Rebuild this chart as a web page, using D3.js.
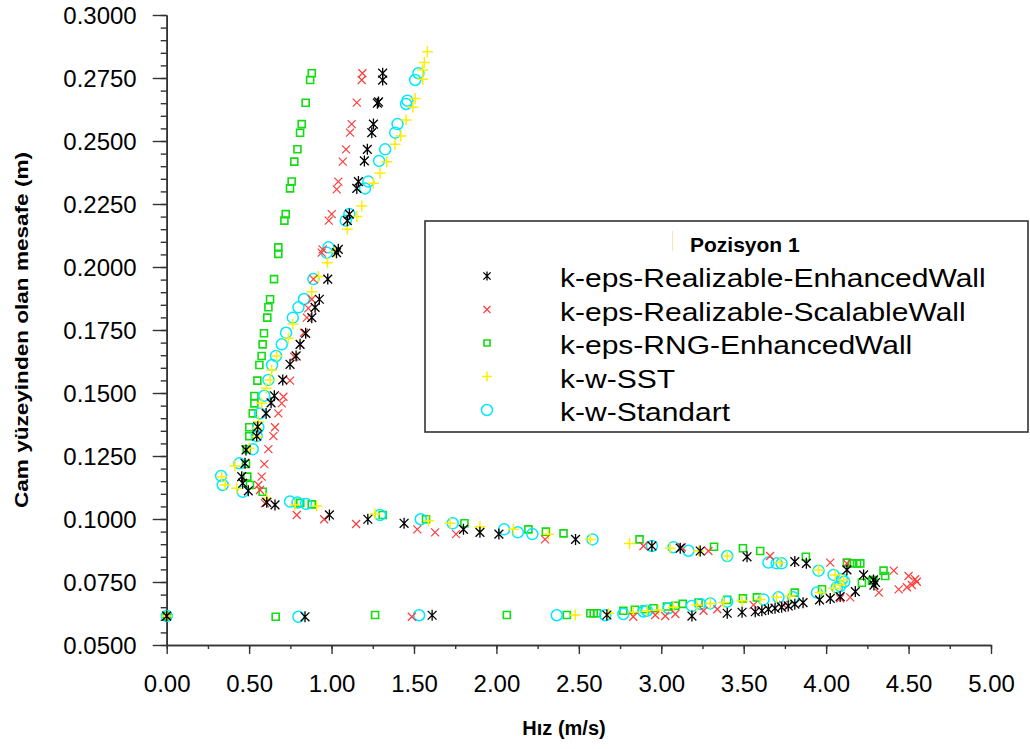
<!DOCTYPE html>
<html>
<head>
<meta charset="utf-8">
<script src="https://cdn.jsdelivr.net/npm/d3@7"></script>
<style>
  html, body { margin: 0; padding: 0; background: #fff; }
  svg { display: block; }
  text { font-family: "Liberation Sans", Arial, sans-serif; }
</style>
</head>
<body>
<svg id="chart" width="1030" height="749"></svg>
<script>
// Velocity profiles (m/s) against distance from the glass surface (m), position 1
const xMajorTicks = [0, 0.5, 1, 1.5, 2, 2.5, 3, 3.5, 4, 4.5, 5];
const yMajorTicks = [0.05, 0.075, 0.1, 0.125, 0.15, 0.175, 0.2, 0.225, 0.25, 0.275, 0.3];
const seriesNames = [
  "k-eps-Realizable-EnhancedWall",
  "k-eps-Realizable-ScalableWall",
  "k-eps-RNG-EnhancedWall",
  "k-w-SST",
  "k-w-Standart"
];
const legendTitle = "Pozisyon 1";
const xTitle = "Hız (m/s)";
const yTitle = "Cam yüzeyinden olan mesafe (m)";

// [velocity, distance]
const realizableEnhanced = [
  [0,0.0615],[0.839,0.0612],[1.61,0.0618],[2.67,0.0619],[3.186,0.0615],[3.40,0.0626],[3.49,0.0630],
  [3.57,0.0632],[3.61,0.0636],[3.65,0.0642],[3.69,0.0646],[3.73,0.0650],[3.77,0.0655],[3.81,0.0662],
  [3.86,0.0668],[3.96,0.0679],[4.025,0.0685],[4.085,0.0692],[4.177,0.0712],[4.29,0.0738],[4.30,0.0748],
  [4.287,0.0758],[4.227,0.0778],[4.126,0.0798],[3.88,0.0824],[3.81,0.0831],[3.52,0.0850],[3.236,0.0873],
  [3.115,0.0884],[2.943,0.0893],[2.48,0.0919],[2.015,0.0940],[1.90,0.0947],[1.80,0.0959],[1.44,0.0983],
  [1.22,0.0999],[0.987,0.1016],[0.657,0.1056],[0.607,0.1066],[0.495,0.1112],[0.461,0.1142],[0.455,0.1168],
  [0.475,0.1221],[0.481,0.1274],[0.546,0.1329],[0.552,0.1366],[0.603,0.1419],[0.633,0.1461],[0.653,0.1489],
  [0.704,0.1552],[0.748,0.1614],[0.785,0.1647],[0.809,0.1693],[0.843,0.1737],[0.88,0.1799],[0.90,0.1840],
  [0.926,0.1872],[0.977,0.1952],[1.03,0.2057],[1.041,0.2070],[1.096,0.2184],[1.108,0.2210],[1.153,0.2312],
  [1.163,0.2339],[1.199,0.2421],[1.217,0.2467],[1.244,0.2533],[1.254,0.2567],[1.278,0.2650],[1.285,0.2655],
  [1.31,0.2742],[1.31,0.2769]
];
const realizableScalable = [
  [0,0.0615],[1.487,0.0612],[2.83,0.0612],[2.963,0.0619],[3.024,0.0615],[3.085,0.0623],[3.256,0.0636],
  [3.34,0.0642],[3.56,0.0659],[3.74,0.0659],[4.085,0.0685],[4.146,0.0689],[4.32,0.0708],[4.44,0.0721],
  [4.49,0.0729],[4.52,0.0738],[4.55,0.0751],[4.54,0.0761],[4.50,0.0774],[4.41,0.0795],[4.126,0.0824],
  [4.025,0.0827],[3.66,0.0853],[3.286,0.0873],[3.125,0.0888],[2.892,0.0893],[2.295,0.0919],[1.755,0.0940],
  [1.628,0.0947],[1.52,0.0959],[1.149,0.0980],[0.955,0.0999],[0.789,0.1016],[0.596,0.1062],[0.566,0.1115],
  [0.556,0.1135],[0.576,0.1168],[0.592,0.1218],[0.617,0.1277],[0.647,0.1329],[0.657,0.1364],[0.677,0.1419],
  [0.698,0.1459],[0.708,0.1485],[0.748,0.1549],[0.774,0.1644],[0.809,0.1693],[0.833,0.1739],[0.85,0.1799],
  [0.859,0.1836],[0.88,0.1872],[0.89,0.1952],[0.94,0.2057],[0.946,0.2070],[0.983,0.2184],[1.001,0.2210],
  [1.031,0.2308],[1.041,0.2339],[1.068,0.2418],[1.088,0.2467],[1.112,0.2533],[1.122,0.2567],[1.153,0.2652],
  [1.183,0.2742],[1.187,0.2769]
];
const rngEnhanced = [
  [0,0.0615],[0.661,0.0612],[1.264,0.0619],[2.063,0.0619],[2.427,0.0619],[2.57,0.0626],[2.59,0.0626],
  [2.61,0.0626],[2.77,0.0636],[2.84,0.0640],[2.90,0.0642],[2.953,0.0646],[3.034,0.0653],[3.085,0.0656],
  [3.13,0.0663],[3.226,0.0668],[3.40,0.0679],[3.495,0.0685],[3.58,0.0689],[3.81,0.0708],[3.975,0.0721],
  [4.217,0.0747],[4.278,0.0755],[4.287,0.0758],[4.358,0.0774],[4.348,0.0795],[4.207,0.0824],[4.187,0.0824],
  [4.157,0.0824],[4.126,0.0827],[3.877,0.0850],[3.60,0.0873],[3.495,0.0884],[3.32,0.0890],[2.868,0.0919],
  [2.407,0.0943],[2.30,0.0950],[2.194,0.0959],[1.806,0.0983],[1.573,0.0999],[1.31,0.1016],[0.88,0.1058],
  [0.81,0.1064],[0.582,0.1108],[0.505,0.1135],[0.489,0.1168],[0.481,0.1218],[0.485,0.1277],[0.501,0.1329],
  [0.501,0.1364],[0.522,0.1419],[0.532,0.1459],[0.532,0.1488],[0.550,0.1549],[0.562,0.1611],[0.576,0.1647],
  [0.582,0.1693],[0.59,0.1737],[0.610,0.1799],[0.617,0.1840],[0.627,0.1872],[0.651,0.1952],[0.677,0.2052],
  [0.677,0.2078],[0.714,0.2184],[0.722,0.2210],[0.748,0.2312],[0.758,0.2339],[0.774,0.2418],[0.793,0.2467],
  [0.809,0.2533],[0.819,0.2567],[0.843,0.2652],[0.87,0.2742],[0.88,0.2769]
];
const kwSST = [
  [0,0.0615],[2.478,0.0619],[2.68,0.0626],[2.83,0.0630],[2.913,0.0636],[2.983,0.0639],[3.074,0.0650],
  [3.216,0.0659],[3.297,0.0665],[3.377,0.0669],[3.49,0.0676],[3.60,0.0681],[3.70,0.0689],[3.78,0.0694],
  [3.964,0.0708],[4.045,0.0725],[4.085,0.0738],[4.106,0.0758],[4.055,0.0778],[3.954,0.0798],[3.72,0.0827],
  [3.40,0.0853],[3.226,0.0873],[3.054,0.0884],[2.807,0.0903],[2.569,0.0919],[2.315,0.0939],[2.103,0.0959],
  [1.90,0.0969],[1.719,0.0983],[1.588,0.0993],[1.264,0.1020],[0.91,0.1052],[0.778,0.1056],[0.607,0.1082],
  [0.425,0.1122],[0.354,0.1135],[0.334,0.1168],[0.414,0.1210],[0.501,0.1281],[0.546,0.1327],[0.546,0.1360],
  [0.556,0.1386],[0.576,0.1459],[0.603,0.1519],[0.627,0.1552],[0.637,0.1591],[0.667,0.1647],[0.738,0.1717],
  [0.765,0.1774],[0.88,0.1902],[0.92,0.1962],[0.975,0.2017],[1.021,0.2061],[1.096,0.2150],[1.153,0.2200],
  [1.183,0.2242],[1.254,0.2332],[1.294,0.2372],[1.335,0.2418],[1.385,0.2487],[1.42,0.2520],[1.452,0.2583],
  [1.493,0.2634],[1.507,0.2669],[1.553,0.2745],[1.553,0.2782],[1.563,0.2812],[1.581,0.2854]
];
const kwStandart = [
  [0,0.0615],[0.799,0.0612],[1.531,0.0618],[2.366,0.0618],[2.66,0.0618],[2.77,0.0623],[2.892,0.0633],
  [2.913,0.0636],[3.044,0.0646],[3.186,0.0655],[3.236,0.0663],[3.297,0.0665],[3.40,0.0672],[3.62,0.0681],
  [3.711,0.0689],[3.80,0.0689],[3.944,0.0708],[4.065,0.0729],[4.085,0.0734],[4.11,0.0751],[4.096,0.0761],
  [4.045,0.0778],[3.954,0.0795],[3.73,0.0824],[3.70,0.0824],[3.65,0.0827],[3.40,0.0853],[3.165,0.0874],
  [3.074,0.0888],[2.943,0.0893],[2.583,0.0919],[2.218,0.0940],[2.13,0.0947],[2.047,0.0959],[1.735,0.0983],
  [1.541,0.0999],[1.294,0.1016],[0.845,0.1060],[0.793,0.1065],[0.748,0.1069],[0.461,0.1108],[0.34,0.1135],
  [0.33,0.1171],[0.441,0.1221],[0.522,0.1277],[0.546,0.1329],[0.556,0.1364],[0.566,0.1419],[0.592,0.1489],
  [0.617,0.1552],[0.639,0.1611],[0.663,0.1647],[0.698,0.1693],[0.724,0.1739],[0.765,0.1799],[0.799,0.1840],
  [0.833,0.1873],[0.89,0.1952],[0.971,0.2057],[0.981,0.2078],[1.086,0.2184],[1.108,0.2210],[1.203,0.2312],
  [1.223,0.2339],[1.288,0.2421],[1.325,0.2467],[1.386,0.2533],[1.40,0.2567],[1.452,0.2647],[1.46,0.2660],
  [1.507,0.2742],[1.527,0.2769]
];

const seriesData = [realizableEnhanced, realizableScalable, rngEnhanced, kwSST, kwStandart];

// ---- marker styles ----
const styles = [
  { color: "#000000", shape: "asterisk", size: 5.5, width: 1.3 },
  { color: "#ff3b3b", shape: "cross",    size: 4,   width: 1.2 },
  { color: "#11dd11", shape: "square",   size: 3.5, width: 1.6 },
  { color: "#ffee00", shape: "plus",     size: 5.5, width: 1.5 },
  { color: "#00e8ff", shape: "circle",   size: 5.5, width: 1.5 }
];
function markerPath(shape, s) {
  switch (shape) {
    case "asterisk": return `M0,${-s}V${s}M${-s*0.8},${-s*0.8}L${s*0.8},${s*0.8}M${-s*0.8},${s*0.8}L${s*0.8},${-s*0.8}`;
    case "cross":    return `M${-s},${-s}L${s},${s}M${-s},${s}L${s},${-s}`;
    case "square":   return `M${-s},${-s}H${s}V${s}H${-s}Z`;
    case "plus":     return `M${-s},0H${s}M0,${-s}V${s}`;
    case "circle":   return `M${s},0A${s},${s} 0 1,1 ${-s},0A${s},${s} 0 1,1 ${s},0Z`;
  }
}

const svg = d3.select("#chart");
const x = d3.scaleLinear().domain([0, 5]).range([166.7, 991]);
const y = d3.scaleLinear().domain([0.05, 0.30]).range([645, 15]);

// ---- axes ----
const axisColor = "#333";
const xMinor = d3.range(0, 5.0001, 0.25);
const yMinor = d3.range(0.05, 0.30001, 0.005);

const gxMinor = svg.append("g").attr("transform", "translate(0,645)")
  .call(d3.axisBottom(x).tickValues(xMinor).tickSize(4).tickSizeOuter(0).tickFormat(""));
const gx = svg.append("g").attr("transform", "translate(0,645)")
  .call(d3.axisBottom(x).tickValues(xMajorTicks).tickSize(9).tickSizeOuter(0).tickPadding(21)
    .tickFormat(d3.format(".2f")));
const gyMinor = svg.append("g").attr("transform", "translate(166.7,0)")
  .call(d3.axisLeft(y).tickValues(yMinor).tickSize(6).tickSizeOuter(0).tickFormat(""));
const gy = svg.append("g").attr("transform", "translate(166.7,0)")
  .call(d3.axisLeft(y).tickValues(yMajorTicks).tickSize(14).tickSizeOuter(0).tickPadding(16)
    .tickFormat(d3.format(".4f")));

[gxMinor, gx, gyMinor, gy].forEach(g => {
  g.selectAll("path.domain").attr("stroke", axisColor).attr("stroke-width", 1.6);
  g.selectAll(".tick line").attr("stroke", axisColor).attr("stroke-width", 1.4);
  g.selectAll(".tick text").attr("fill", "#000").style("font-size", "24px")
    .style("font-family", "'Liberation Sans', Arial, sans-serif");
});
gy.selectAll(".tick text").attr("dy", "0.36em");

// ---- axis titles ----
svg.append("text")
  .attr("x", 564).attr("y", 735)
  .attr("text-anchor", "middle")
  .style("font-size", "20px").style("font-weight", "bold")
  .text(xTitle);

svg.append("text")
  .attr("transform", "translate(28,330) rotate(-90)")
  .attr("text-anchor", "middle")
  .attr("textLength", 356).attr("lengthAdjust", "spacingAndGlyphs")
  .style("font-size", "18px").style("font-weight", "bold")
  .text(yTitle);

// ---- data points ----
const order = [2, 4, 3, 1, 0];
order.forEach(i => {
  const st = styles[i];
  svg.append("g")
    .selectAll("path")
    .data(seriesData[i])
    .join("path")
    .attr("transform", d => `translate(${x(d[0])},${y(d[1])})`)
    .attr("d", markerPath(st.shape, st.size))
    .attr("fill", "none")
    .attr("stroke", st.color)
    .attr("stroke-width", st.width);
});

// ---- legend ----
const lg = svg.append("g");
lg.append("rect")
  .attr("x", 425).attr("y", 221).attr("width", 603).attr("height", 211)
  .attr("fill", "#fff").attr("stroke", axisColor).attr("stroke-width", 1.6);
lg.append("line")
  .attr("x1", 672.5).attr("x2", 672.5).attr("y1", 231).attr("y2", 251)
  .attr("stroke", "#ffe3a0").attr("stroke-width", 1);
lg.append("text")
  .attr("x", 690).attr("y", 251.5)
  .style("font-size", "21px").style("font-weight", "bold")
  .text(legendTitle);

const legendSizes = [4.5, 3.5, 3, 5, 5.5];
seriesNames.forEach((name, i) => {
  const base = 287 + i * 33.5;
  const st = styles[i];
  lg.append("path")
    .attr("transform", `translate(487,${base - 11})`)
    .attr("d", markerPath(st.shape, legendSizes[i]))
    .attr("fill", "none").attr("stroke", st.color).attr("stroke-width", st.width);
  lg.append("text")
    .attr("transform", `translate(560,${base}) scale(1.2,1)`)
    .style("font-size", "25px")
    .text(name);
});
</script>
</body>
</html>
